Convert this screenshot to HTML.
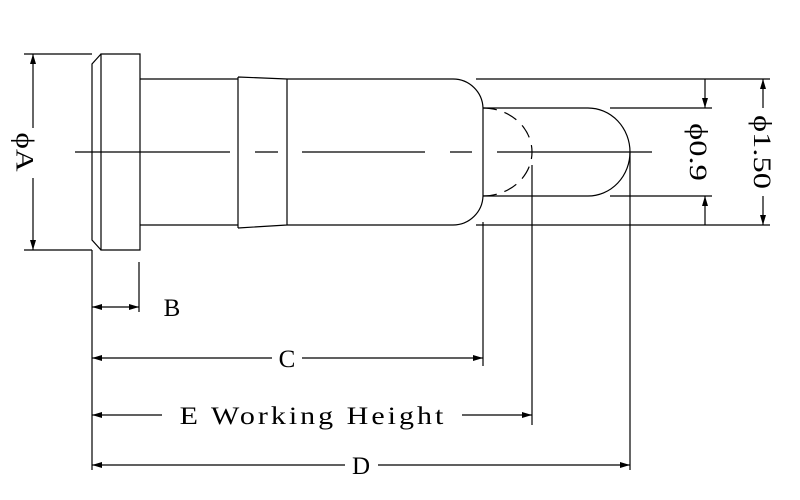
<!DOCTYPE html>
<html><head><style>body{margin:0;background:#fff}svg{display:block}</style></head><body>
<svg width="800" height="500" viewBox="0 0 800 500" xmlns="http://www.w3.org/2000/svg" font-family="Liberation Serif, serif">
<defs>
<marker id="a" viewBox="0 0 10 6" refX="10" refY="3" markerWidth="10" markerHeight="6" orient="auto-start-reverse" markerUnits="userSpaceOnUse"><path d="M0,0 L10,3 L0,6 z" fill="#000"/></marker>
</defs>
<g stroke="#000" stroke-width="1.2" fill="none">
<path d="M101,54 L140,54 L140,250 L101,250 Z"/>
<path d="M101,54 L92,64 L92,240 L101,250"/>
<path d="M140,79 L238,79 M287,79 L453,79 A30,30 0 0 1 483,108 L483,196 A30,30 0 0 1 453,225 L287,225 M238,225 L140,225"/>
<path d="M238,77 L238,228 M287,79 L287,225 M238,77 L287,79 M238,228 L287,225"/>
<path d="M483,108 L588,108 A42,44 0 0 1 630,152 A42,44 0 0 1 588,196 L483,196"/>
<path d="M483,108 A49,44 0 0 1 532,152 A49,44 0 0 1 483,196" stroke-dasharray="14,8"/>
<path d="M75,152 L230,152 M255,152 L278,152 M302,152 L425,152 M450,152 L472,152 M497,152 L652,152"/>
<path d="M24,54 L92,54 M24,250 L92,250 M92,250 L92,470"/>
<path d="M476,79 L770,79 M476,225 L770,225 M610,108 L712,108 M610,196 L712,196"/>
<path d="M139,262 L139,312 M483,222 L483,366 M532,165 L532,425 M630,152 L630,470"/>
</g>
<g stroke="#000" stroke-width="1.2">
<line x1="33" y1="54" x2="33" y2="128" marker-start="url(#a)"/>
<line x1="33" y1="178" x2="33" y2="250" marker-end="url(#a)"/>
<line x1="705" y1="79" x2="705" y2="108" marker-end="url(#a)"/>
<line x1="705" y1="225" x2="705" y2="196" marker-end="url(#a)"/>
<line x1="763" y1="79" x2="763" y2="108" marker-start="url(#a)"/>
<line x1="763" y1="196" x2="763" y2="225" marker-end="url(#a)"/>
<line x1="92" y1="307" x2="139" y2="307" marker-start="url(#a)" marker-end="url(#a)"/>
<line x1="92" y1="358" x2="272" y2="358" marker-start="url(#a)"/>
<line x1="302" y1="358" x2="483" y2="358" marker-end="url(#a)"/>
<line x1="92" y1="415" x2="162" y2="415" marker-start="url(#a)"/>
<line x1="462" y1="415" x2="532" y2="415" marker-end="url(#a)"/>
<line x1="92" y1="465" x2="345" y2="465" marker-start="url(#a)"/>
<line x1="378" y1="465" x2="630" y2="465" marker-end="url(#a)"/>
</g>
<g font-size="25" fill="#000">
<text x="0" y="0" transform="translate(24,152) rotate(90) scale(1.25,1)" text-anchor="middle" dominant-baseline="central">ϕA</text>
<text x="0" y="0" transform="translate(698,152) rotate(90) scale(1.3,1)" text-anchor="middle" dominant-baseline="central">ϕ0.9</text>
<text x="0" y="0" transform="translate(762,152) rotate(90) scale(1.3,1)" text-anchor="middle" dominant-baseline="central">ϕ1.50</text>
<text x="172" y="316" text-anchor="middle">B</text>
<text x="287" y="367" text-anchor="middle">C</text>
<text x="0" y="0" transform="translate(313,424) scale(1.2,1)" text-anchor="middle" letter-spacing="2.5">E Working Height</text>
<text x="361" y="474" text-anchor="middle">D</text>
</g>
</svg>
</body></html>
